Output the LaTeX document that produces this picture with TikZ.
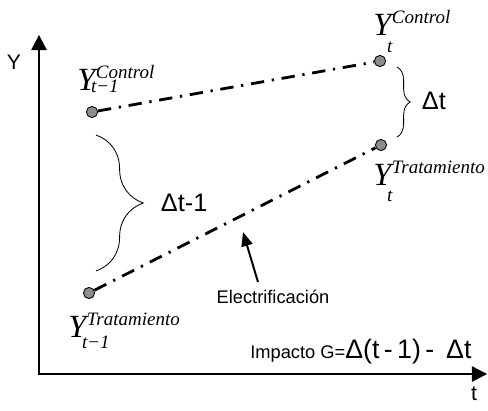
\documentclass[tikz,border=0pt]{standalone}
\usepackage{fontspec}
\setmainfont{Liberation Serif}
\setsansfont{Liberation Sans}
\usetikzlibrary{arrows.meta,decorations.pathreplacing}

% Y with superscript group and subscript time, #1 = drop of the subscript
\newcommand{\ylab}[3][12pt]{\rmfamily{\fontsize{23}{25}\selectfont\itshape Y}{\fontsize{13.5}{15}\selectfont\itshape\hspace{0.5pt}\rlap{\hspace{-3.5pt}\raisebox{-#1}{#3}}\raisebox{8.5pt}{#2}}}

\begin{document}
\begin{tikzpicture}[x=0.025cm, y=-0.025cm, font=\sffamily,
    obs/.style={circle, draw, line width=0.6pt, fill=black!45, inner sep=0pt, minimum size=8pt},
    trend/.style={line width=2pt, dash pattern=on 9.5pt off 5.5pt on 1.6pt off 5.5pt},
    diffbrace/.style={decorate, decoration={brace, amplitude=#1}, line width=0.6pt},
    >={Triangle[length=10.7pt, width=11pt]}]
  \useasboundingbox (0,0) rectangle (488,410);
  % axes
  \coordinate (ytip) at (39,35);
  \coordinate (origin) at (39,374);
  \coordinate (xtip) at (487,374);
  \draw[line width=0.8pt, <->] (ytip) -- (origin) -- (xtip);
  \node (ylabel) at (14,62) {\fontsize{15}{17}\selectfont Y};
  \node (tlabel) at (474,394) {\fontsize{15}{17}\selectfont t};
  % observed points and trends
  \node[obs] (ctrl0) at (92,112) {};
  \node[obs] (ctrl1) at (380,61) {};
  \node[obs] (trat1) at (381,145) {};
  \node[obs] (trat0) at (89,293) {};
  \draw[trend] (ctrl0) -- (ctrl1);
  \draw[trend] (trat0) -- (trat1);
  \node[anchor=base west, inner sep=0pt] (lctrl0) at (77,90) {\ylab[2pt]{Control}{t−1}};
  \node[anchor=base west, inner sep=0pt] (lctrl1) at (373,35) {\ylab[12.5pt]{Control}{t}};
  \node[anchor=base west, inner sep=0pt] (ltrat1) at (373,185) {\ylab[12pt]{Tratamiento}{t}};
  \node[anchor=base west, inner sep=0pt] (ltrat0) at (68,337) {\ylab[8pt]{Tratamiento}{t−1}};
  % differences
  \draw[diffbrace=1.18cm] (96,135) -- (96,271);
  \draw[diffbrace=0.33cm] (397,67) -- (397,137);
  \node[anchor=west] (dlag) at (156,203) {\fontsize{18}{20}\selectfont Δt-1};
  \node[anchor=west] (dnow) at (417,101) {\fontsize{18}{20}\selectfont Δt};
  % treatment
  \node[anchor=base] (elec) at (273,303) {\fontsize{13}{15}\selectfont Electrificación};
  \coordinate (etail) at (258,282);
  \coordinate (ehead) at (243,232);
  \draw[line width=1.4pt, -{Triangle[length=10pt, width=8pt]}] (etail) -- (ehead);
  \node[anchor=base west, inner sep=0pt] (impact) at (250,358) {\fontsize{13}{15}\selectfont Impacto G=\fontsize{19}{21}\selectfont Δ(t\,-\,1)\,-\;\,Δt};
\end{tikzpicture}
\end{document}
